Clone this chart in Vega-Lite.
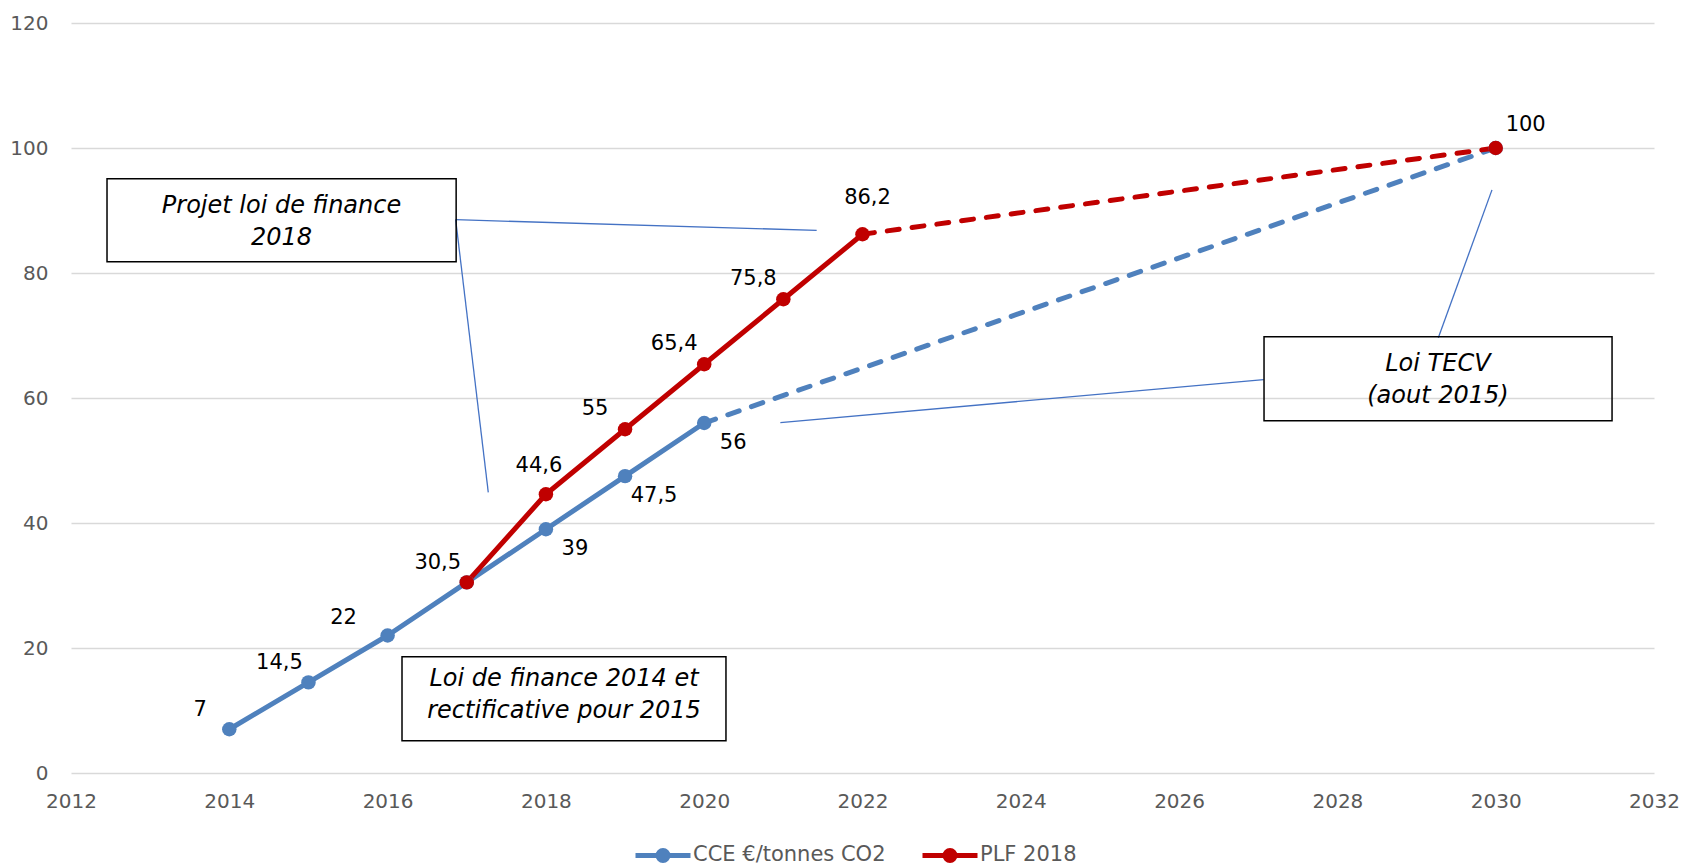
{
  "$schema": "https://vega.github.io/schema/vega-lite/v6.json",
  "width": 1583,
  "height": 750,
  "autosize": {"type": "none"},
  "padding": {"left": 71, "top": 23, "right": 29, "bottom": 93},
  "background": "white",
  "config": {
    "view": {"stroke": null},
    "font": "DejaVu Sans",
    "locale": {"number": {"decimal": ",", "thousands": " ", "grouping": [3], "currency": ["", " €"]}}
  },
  "datasets": {
    "series": [
      {"series": "CCE €/tonnes CO2", "year": 2014, "value": 7},
      {"series": "CCE €/tonnes CO2", "year": 2015, "value": 14.5},
      {"series": "CCE €/tonnes CO2", "year": 2016, "value": 22},
      {"series": "CCE €/tonnes CO2", "year": 2017, "value": 30.5},
      {"series": "CCE €/tonnes CO2", "year": 2018, "value": 39},
      {"series": "CCE €/tonnes CO2", "year": 2019, "value": 47.5},
      {"series": "CCE €/tonnes CO2", "year": 2020, "value": 56},
      {"series": "CCE €/tonnes CO2", "year": 2030, "value": 100},
      {"series": "PLF 2018", "year": 2017, "value": 30.5},
      {"series": "PLF 2018", "year": 2018, "value": 44.6},
      {"series": "PLF 2018", "year": 2019, "value": 55},
      {"series": "PLF 2018", "year": 2020, "value": 65.4},
      {"series": "PLF 2018", "year": 2021, "value": 75.8},
      {"series": "PLF 2018", "year": 2022, "value": 86.2},
      {"series": "PLF 2018", "year": 2030, "value": 100}
    ],
    "boxes": [
      {"text": "Projet loi de finance\n2018", "x": 2012.455, "x2": 2016.866, "y": 95.09, "y2": 81.81, "tx": 2014.66, "ty": 88.13},
      {"text": "Loi de finance 2014 et\nrectificative pour 2015", "x": 2016.182, "x2": 2020.275, "y": 18.61, "y2": 5.17, "tx": 2018.229, "ty": 12.53},
      {"text": "Loi TECV\n(aout 2015)", "x": 2027.073, "x2": 2031.47, "y": 69.81, "y2": 56.37, "tx": 2029.27, "ty": 62.85}
    ],
    "leaders": [
      {"x": 2016.86, "y": 88.53, "x2": 2021.421, "y2": 86.82},
      {"x": 2016.86, "y": 88.53, "x2": 2017.272, "y2": 44.9},
      {"x": 2027.069, "y": 62.93, "x2": 2020.962, "y2": 56.06},
      {"x": 2029.275, "y": 69.63, "x2": 2029.953, "y2": 93.3}
    ]
  },
  "layer": [
    {
      "data": {"name": "leaders"},
      "mark": {"type": "rule", "color": "#4472C4", "strokeWidth": 1.3},
      "encoding": {
        "x": {"field": "x", "type": "quantitative",
          "scale": {"domain": [2012, 2032], "nice": false, "zero": false},
          "axis": {"values": [2012, 2014, 2016, 2018, 2020, 2022, 2024, 2026, 2028, 2030, 2032], "format": "d", "grid": false, "domain": false, "ticks": false, "labelPadding": 18, "labelFontSize": 20, "labelColor": "#595959", "labelFlush": false, "labelOverlap": false, "title": null}},
        "y": {"field": "y", "type": "quantitative",
          "scale": {"domain": [0, 120], "nice": false, "zero": true},
          "axis": {"values": [0, 20, 40, 60, 80, 100, 120], "grid": true, "gridColor": "#D9D9D9", "gridWidth": 1.5, "domain": false, "ticks": false, "labelPadding": 23, "labelFontSize": 20, "labelColor": "#595959", "title": null}},
        "x2": {"field": "x2"},
        "y2": {"field": "y2"}
      }
    },
    {
      "data": {"name": "boxes"},
      "mark": {"type": "rect", "fill": null, "fillOpacity": 0, "stroke": "#000000", "strokeWidth": 1.5},
      "encoding": {
        "x": {"field": "x", "type": "quantitative"},
        "x2": {"field": "x2"},
        "y": {"field": "y", "type": "quantitative"},
        "y2": {"field": "y2"}
      }
    },
    {
      "data": {"name": "boxes"},
      "mark": {"type": "text", "fontStyle": "italic", "fontSize": 24, "lineBreak": "\n", "lineHeight": 32, "align": "center", "baseline": "middle", "dy": -16, "color": "#000000"},
      "encoding": {
        "x": {"field": "tx", "type": "quantitative"},
        "y": {"field": "ty", "type": "quantitative"},
        "text": {"field": "text"}
      }
    },
    {
      "data": {"name": "series"},
      "transform": [{"filter": "(datum.series==='CCE €/tonnes CO2' && datum.year<=2020) || (datum.series==='PLF 2018' && datum.year<=2022)"}],
      "mark": {"type": "line", "strokeWidth": 5, "strokeCap": "round", "strokeJoin": "round"},
      "encoding": {
        "x": {"field": "year", "type": "quantitative"},
        "y": {"field": "value", "type": "quantitative"},
        "color": {"field": "series", "type": "nominal", "scale": {"domain": ["CCE €/tonnes CO2", "PLF 2018"], "range": ["#4F81BD", "#C00000"]},
          "legend": {"orient": "none", "legendX": 562, "legendY": 802, "direction": "horizontal", "title": null,
            "symbolType": "M-1,0H1 M0.182,0A0.182,0.182 0 1 1 -0.182,0A0.182,0.182 0 1 1 0.182,0 M0.091,0A0.091,0.091 0 1 1 -0.091,0A0.091,0.091 0 1 1 0.091,0",
            "symbolSize": 3025, "symbolStrokeWidth": 5, "symbolOpacity": 1,
            "labelFontSize": 21, "labelColor": "#595959", "labelOffset": 0, "labelLimit": 0, "columnPadding": 26}}
      }
    },
    {
      "data": {"name": "series"},
      "transform": [{"filter": "(datum.series==='CCE €/tonnes CO2' && datum.year>=2020) || (datum.series==='PLF 2018' && datum.year>=2022)"}],
      "mark": {"type": "line", "strokeWidth": 5, "strokeCap": "round", "strokeDash": [12, 13]},
      "encoding": {
        "x": {"field": "year", "type": "quantitative"},
        "y": {"field": "value", "type": "quantitative"},
        "color": {"field": "series", "type": "nominal", "legend": null}
      }
    },
    {
      "data": {"name": "series"},
      "mark": {"type": "point", "filled": true, "size": 210, "opacity": 1, "strokeWidth": 0},
      "encoding": {
        "x": {"field": "year", "type": "quantitative"},
        "y": {"field": "value", "type": "quantitative"},
        "color": {"field": "series", "type": "nominal", "legend": null}
      }
    },
    {
      "data": {"name": "series"},
      "transform": [{"filter": {"and": [{"field": "series", "equal": "CCE €/tonnes CO2"}, {"field": "year", "oneOf": [2014, 2015, 2017]}]}}],
      "mark": {"type": "text", "fontSize": 21, "color": "#000000", "align": "center", "baseline": "middle", "dx": -29, "dy": -19},
      "encoding": {"x": {"field": "year", "type": "quantitative"}, "y": {"field": "value", "type": "quantitative"}, "text": {"field": "value", "type": "quantitative", "format": "~g"}}
    },
    {
      "data": {"name": "series"},
      "transform": [{"filter": {"and": [{"field": "series", "equal": "CCE €/tonnes CO2"}, {"field": "year", "oneOf": [2016]}]}}],
      "mark": {"type": "text", "fontSize": 21, "color": "#000000", "align": "center", "baseline": "middle", "dx": -44, "dy": -18},
      "encoding": {"x": {"field": "year", "type": "quantitative"}, "y": {"field": "value", "type": "quantitative"}, "text": {"field": "value", "type": "quantitative", "format": "~g"}}
    },
    {
      "data": {"name": "series"},
      "transform": [{"filter": {"and": [{"field": "series", "equal": "CCE €/tonnes CO2"}, {"field": "year", "oneOf": [2018, 2019, 2020]}]}}],
      "mark": {"type": "text", "fontSize": 21, "color": "#000000", "align": "center", "baseline": "middle", "dx": 29, "dy": 20},
      "encoding": {"x": {"field": "year", "type": "quantitative"}, "y": {"field": "value", "type": "quantitative"}, "text": {"field": "value", "type": "quantitative", "format": "~g"}}
    },
    {
      "data": {"name": "series"},
      "transform": [{"filter": {"and": [{"field": "series", "equal": "PLF 2018"}, {"field": "year", "oneOf": [2018]}]}}],
      "mark": {"type": "text", "fontSize": 21, "color": "#000000", "align": "center", "baseline": "middle", "dx": -7, "dy": -28},
      "encoding": {"x": {"field": "year", "type": "quantitative"}, "y": {"field": "value", "type": "quantitative"}, "text": {"field": "value", "type": "quantitative", "format": "~g"}}
    },
    {
      "data": {"name": "series"},
      "transform": [{"filter": {"and": [{"field": "series", "equal": "PLF 2018"}, {"field": "year", "oneOf": [2019, 2020, 2021]}]}}],
      "mark": {"type": "text", "fontSize": 21, "color": "#000000", "align": "center", "baseline": "middle", "dx": -30, "dy": -20},
      "encoding": {"x": {"field": "year", "type": "quantitative"}, "y": {"field": "value", "type": "quantitative"}, "text": {"field": "value", "type": "quantitative", "format": "~g"}}
    },
    {
      "data": {"name": "series"},
      "transform": [{"filter": {"and": [{"field": "series", "equal": "PLF 2018"}, {"field": "year", "oneOf": [2022]}]}}],
      "mark": {"type": "text", "fontSize": 21, "color": "#000000", "align": "center", "baseline": "middle", "dx": 5, "dy": -36},
      "encoding": {"x": {"field": "year", "type": "quantitative"}, "y": {"field": "value", "type": "quantitative"}, "text": {"field": "value", "type": "quantitative", "format": "~g"}}
    },
    {
      "data": {"name": "series"},
      "transform": [{"filter": {"and": [{"field": "series", "equal": "PLF 2018"}, {"field": "year", "oneOf": [2030]}]}}],
      "mark": {"type": "text", "fontSize": 21, "color": "#000000", "align": "center", "baseline": "middle", "dx": 30, "dy": -23},
      "encoding": {"x": {"field": "year", "type": "quantitative"}, "y": {"field": "value", "type": "quantitative"}, "text": {"field": "value", "type": "quantitative", "format": "~g"}}
    }
  ]
}
